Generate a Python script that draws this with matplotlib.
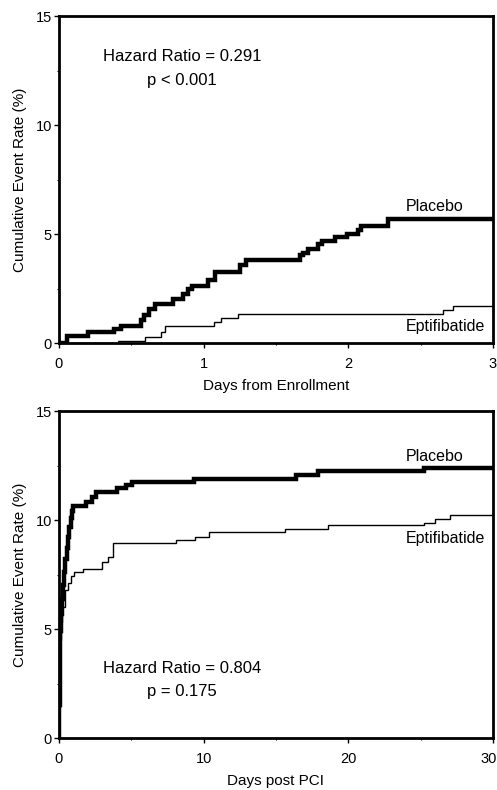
import matplotlib
matplotlib.use("Agg")
import matplotlib.pyplot as plt
from matplotlib.ticker import MultipleLocator
from matplotlib.transforms import ScaledTranslation

plt.rcParams['font.family'] = ['Liberation Sans', 'DejaVu Sans']

# ---------------- Data: top panel (Days from Enrollment) ----------------
top_placebo_days = [0, 0.053, 0.20, 0.38, 0.43, 0.57, 0.59, 0.62, 0.663, 0.79, 0.86,
                    0.89, 0.917, 1.03, 1.08, 1.25, 1.29, 1.665, 1.69, 1.72, 1.79,
                    1.82, 1.91, 1.99, 2.07, 2.09, 2.275, 3.0]
top_placebo_rate = [0, 0.31, 0.50, 0.63, 0.80, 1.05, 1.30, 1.55, 1.78, 2.00, 2.27,
                    2.50, 2.62, 2.88, 3.26, 3.57, 3.80, 4.05, 4.15, 4.33, 4.56,
                    4.70, 4.87, 5.02, 5.20, 5.39, 5.68, 5.68]
top_eptif_days = [0, 0.41, 0.595, 0.705, 0.73, 1.07, 1.12, 1.235, 2.655, 2.725, 3.0]
top_eptif_rate = [0, 0.10, 0.29, 0.52, 0.80, 0.98, 1.16, 1.35, 1.50, 1.68, 1.68]

# ---------------- Data: bottom panel (Days post PCI) ----------------
bot_placebo_days = [0, 0.02, 0.04, 0.06, 0.09, 0.13, 0.18, 0.25, 0.33, 0.42, 0.52,
                    0.62, 0.72, 0.82, 0.90, 0.98, 1.87, 2.26, 2.56, 4.0, 4.6, 5.05,
                    9.3, 16.4, 17.9, 25.2, 30]
bot_placebo_rate = [0, 1.5, 2.8, 3.9, 4.9, 5.7, 6.4, 7.0, 7.6, 8.2, 8.7,
                    9.2, 9.7, 10.1, 10.4, 10.65, 10.85, 11.05, 11.30, 11.45, 11.60, 11.75,
                    11.90, 12.05, 12.25, 12.40, 12.40]
bot_eptif_days = [0, 0.02, 0.04, 0.06, 0.09, 0.13, 0.20, 0.40, 0.60, 0.83, 1.06,
                  1.68, 2.95, 3.41, 3.75, 8.1, 9.4, 10.4, 15.6, 18.6, 25.2, 26.0,
                  27.0, 30]
bot_eptif_rate = [0, 1.4, 2.6, 3.6, 4.5, 5.3, 6.0, 6.8, 7.1, 7.43, 7.63,
                  7.75, 8.09, 8.30, 8.93, 9.08, 9.23, 9.46, 9.60, 9.77, 9.85, 10.05,
                  10.23, 10.23]

top_xticks = [0, 1, 2, 3]
bot_xticks = [0, 10, 20, 30]
yticks = [0, 5, 10, 15]

top_xlabel = "Days from Enrollment"
bot_xlabel = "Days post PCI"
ylabel = "Cumulative Event Rate (%)"
top_stats = ["Hazard Ratio = 0.291", "p < 0.001"]
bot_stats = ["Hazard Ratio = 0.804", "p = 0.175"]

fig = plt.figure(figsize=(4.97, 7.90), dpi=100)
ax1 = fig.add_axes([0.1187, 0.5658, 0.8732, 0.4139])
ax2 = fig.add_axes([0.1187, 0.0658, 0.8732, 0.4139])


def style(ax, xmax, xticks, xminor, xlabel):
    ax.set_xlim(0, xmax)
    ax.set_ylim(0, 15)
    ax.set_xticks(xticks)
    ax.set_yticks(yticks)
    ax.xaxis.set_minor_locator(MultipleLocator(xminor))
    ax.yaxis.set_minor_locator(MultipleLocator(2.5))
    for s in ax.spines.values():
        s.set_linewidth(2.0)
        s.set_color('black')
    ax.tick_params(which='major', direction='out', length=3.6, width=1.0,
                   labelsize=10.5, colors='black')
    ax.tick_params(axis='x', which='major', pad=6.5)
    ax.tick_params(axis='y', which='major', pad=1.5)
    ax.tick_params(which='minor', direction='out', length=1.5, width=0.8)
    ax.set_xlabel(xlabel, fontsize=11, labelpad=6.0)
    ax.set_ylabel(ylabel, fontsize=11, labelpad=6.5)


style(ax1, 3, top_xticks, 0.5, top_xlabel)
style(ax2, 30, bot_xticks, 5, bot_xlabel)

# keep the right-most tick label of the lower panel inside the image
last = ax2.get_xticklabels()[-1]
last.set_transform(last.get_transform() + ScaledTranslation(-0.04, 0, fig.dpi_scale_trans))

kw_thin = dict(drawstyle='steps-post', color='black', lw=1.0,
               solid_joinstyle='miter', solid_capstyle='butt', zorder=3)
kw_thick = dict(drawstyle='steps-post', color='black', lw=3.2,
                solid_joinstyle='miter', solid_capstyle='butt', zorder=4)

ax1.plot(top_eptif_days, top_eptif_rate, **kw_thin)
ax1.plot(top_placebo_days, top_placebo_rate, **kw_thick)
ax2.plot(bot_eptif_days, bot_eptif_rate, **kw_thin)
ax2.plot(bot_placebo_days, bot_placebo_rate, **kw_thick)

# curve labels
ax1.text(0.80, 0.416, "Placebo", transform=ax1.transAxes, fontsize=11.5,
         ha='left', va='center')
ax1.text(0.80, 0.05, "Eptifibatide", transform=ax1.transAxes, fontsize=11.5,
         ha='left', va='center')
ax2.text(0.80, 0.86, "Placebo", transform=ax2.transAxes, fontsize=11.5,
         ha='left', va='center')
ax2.text(0.80, 0.611, "Eptifibatide", transform=ax2.transAxes, fontsize=11.5,
         ha='left', va='center')

# statistics
ax1.text(0.283, 0.875, top_stats[0], transform=ax1.transAxes, fontsize=12,
         ha='center', va='center')
ax1.text(0.283, 0.804, top_stats[1], transform=ax1.transAxes, fontsize=12,
         ha='center', va='center')
ax2.text(0.283, 0.214, bot_stats[0], transform=ax2.transAxes, fontsize=12,
         ha='center', va='center')
ax2.text(0.283, 0.141, bot_stats[1], transform=ax2.transAxes, fontsize=12,
         ha='center', va='center')

fig.savefig("out.png", dpi=100)
